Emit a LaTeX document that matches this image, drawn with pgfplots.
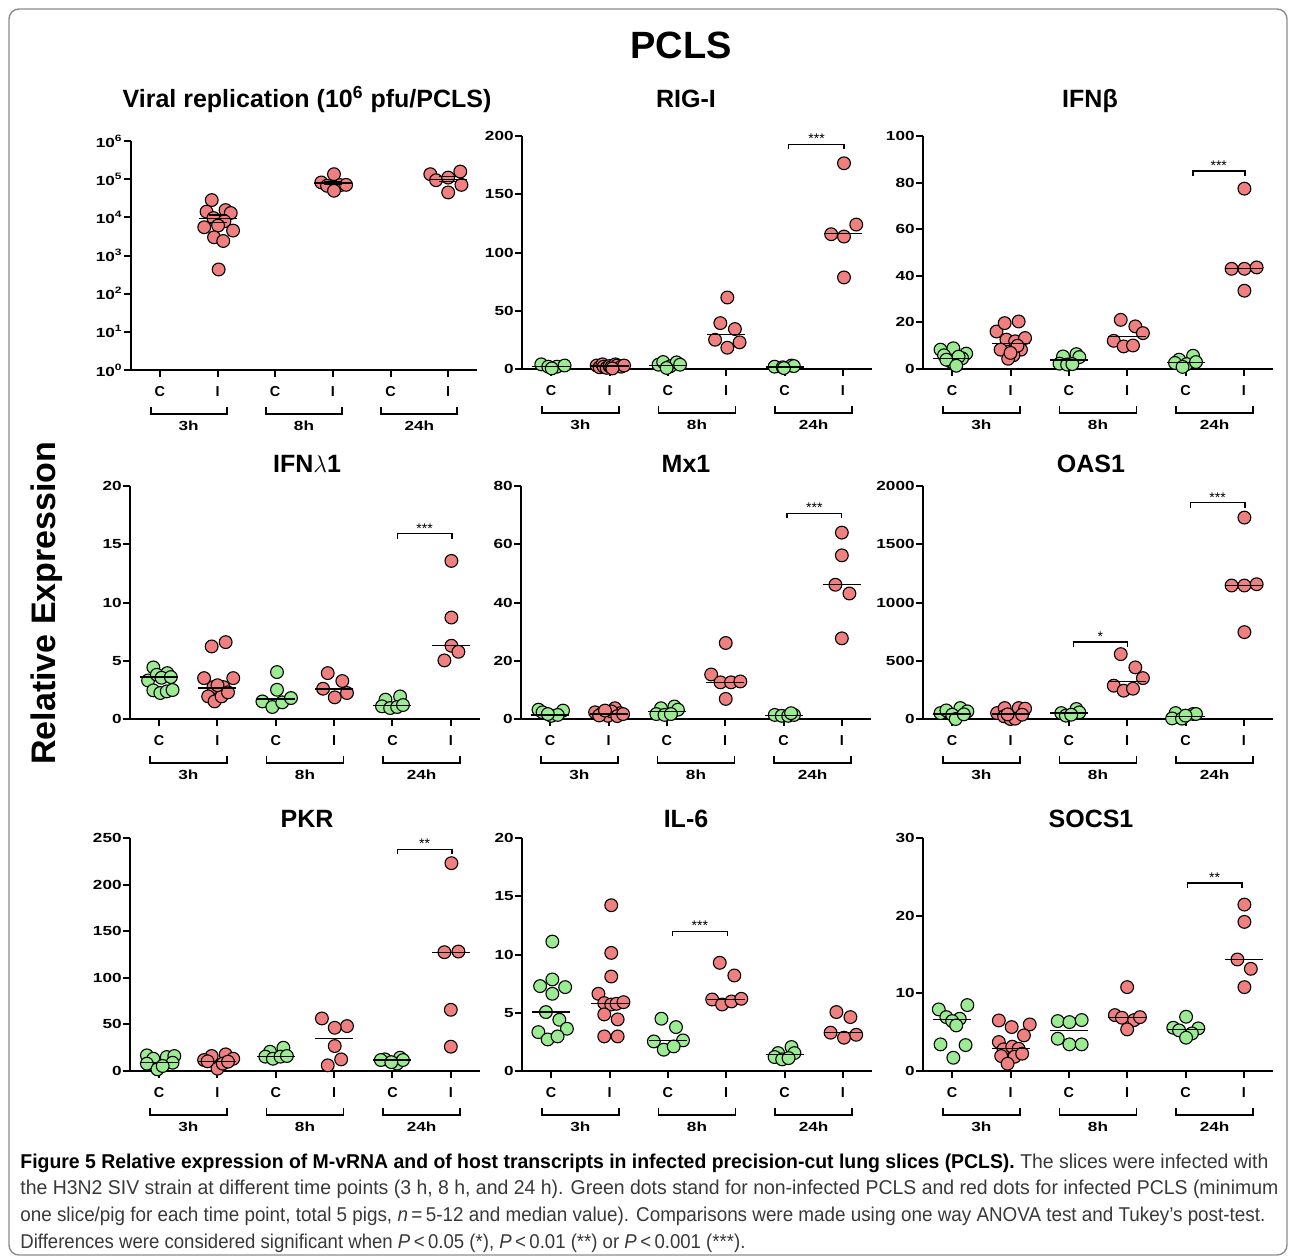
\documentclass[border=0pt]{standalone}
\usepackage{graphicx}
\usepackage{fontspec}
\setmainfont{Liberation Sans}
\newfontfamily\tickfont[FakeStretch=1.3]{Liberation Sans}
\newfontfamily\capfont[FakeStretch=0.9]{Liberation Sans}
\usepackage{pgfplots}
\pgfplotsset{compat=1.18}
\definecolor{dotgreen}{HTML}{9BEB92}
\definecolor{dotred}{HTML}{F08080}
\definecolor{framegray}{HTML}{8C8C8C}

\newcommand{\tickfs}{\tickfont\bfseries\fontsize{6.6}{7}\selectfont}
\newcommand{\titlefs}{\bfseries\fontsize{12.5}{14}\selectfont}
% caption line stretched to a given width, height kept
\newcommand{\capline}[2]{\resizebox{#1}{\height}{#2}}

\pgfplotsset{
  panel/.style={
    scale only axis, width=175pt, height=116.5pt, anchor=south west,
    axis lines=left, axis line style={line width=1pt, -},
    xmin=-0.5, xmax=5.5, ymin=0,
    xtick={0,...,5}, xticklabels={C,I,C,I,C,I},
    tick align=outside, major tick length=3.5pt,
    every tick/.style={black, line width=1pt},
    yticklabel style={font=\tickfs, inner sep=0.5pt},
    xticklabel style={font=\bfseries\fontsize{7.2}{8}\selectfont, inner sep=0pt, yshift=-4.6pt},
    /pgf/number format/assume math mode=true,
    /pgf/number format/1000 sep={},
    clip=false,
  },
  gdot/.style={only marks, mark=*, mark size=3.2pt, mark options={fill=dotgreen, draw=black, line width=0.55pt}},
  rdot/.style={only marks, mark=*, mark size=3.2pt, mark options={fill=dotred, draw=black, line width=0.55pt}},
  med/.style={only marks, mark=-, mark size=9.5pt, mark options={draw=black, line width=0.6pt}},
}

% time-point brackets under the C/I labels, #1 = bottom of the y range
\newcommand{\timebr}[1]{%
  \draw[line width=0.9pt] ([yshift=-18.5pt]axis cs:-0.16,#1) -- ([yshift=-22pt]axis cs:-0.16,#1) -- ([yshift=-22pt]axis cs:1.16,#1) -- ([yshift=-18.5pt]axis cs:1.16,#1);
  \draw[line width=0.9pt] ([yshift=-18.5pt]axis cs:1.84,#1) -- ([yshift=-22pt]axis cs:1.84,#1) -- ([yshift=-22pt]axis cs:3.16,#1) -- ([yshift=-18.5pt]axis cs:3.16,#1);
  \draw[line width=0.9pt] ([yshift=-18.5pt]axis cs:3.84,#1) -- ([yshift=-22pt]axis cs:3.84,#1) -- ([yshift=-22pt]axis cs:5.16,#1) -- ([yshift=-18.5pt]axis cs:5.16,#1);
  \node[font=\tickfs] at ([yshift=-28pt]axis cs:0.5,#1) {3h};
  \node[font=\tickfs] at ([yshift=-28pt]axis cs:2.5,#1) {8h};
  \node[font=\tickfs] at ([yshift=-28pt]axis cs:4.5,#1) {24h};
}
% significance bracket: x1, x2, middle, y, stars
\newcommand{\sig}[5]{%
  \draw[line width=0.6pt] ([yshift=-2.5pt]axis cs:#1,#4) -- (axis cs:#1,#4) -- (axis cs:#2,#4) -- ([yshift=-2.5pt]axis cs:#2,#4);
  \node[anchor=base, inner sep=0pt, font=\fontsize{7}{8}\selectfont] at ([yshift=0.2pt]axis cs:#3,#4) {#5};
}

\begin{document}
\begin{tikzpicture}[x=0.5pt, y=-0.5pt]
\useasboundingbox (0,0) rectangle (1290,1259);
\draw[framegray, line width=0.7pt, rounded corners=5pt] (9,9) rectangle (1287,1255);

\node[font=\bfseries\fontsize{19}{22}\selectfont] at (681,45) {PCLS};
\node[rotate=90, font=\bfseries\fontsize{17}{20}\selectfont] at (47,603) {Relative Expression};

\begin{scope}[every node/.style={anchor=base, font=\titlefs, inner sep=0pt}]
\node at (307,107) {Viral replication (10\textsuperscript{6} pfu/PCLS)};
\node at (686,107) {RIG-I};
\node at (1090,107) {IFNβ};
\node at (307,472) {IFN$\lambda$1};
\node at (686,472) {Mx1};
\node at (1091,472) {OAS1};
\node at (307,827) {PKR};
\node at (686,827) {IL-6};
\node at (1091,827) {SOCS1};
\end{scope}

% ---------- Viral replication ----------
\begin{axis}[panel, at={(65.5pt,-185pt)}, width=173pt, height=114.5pt,
  ymode=log, ymin=1, ymax=1000000, yminorticks=false,
  ytick={1,10,100,1000,10000,100000,1000000},
  yticklabels={10\textsuperscript{0},10\textsuperscript{1},10\textsuperscript{2},10\textsuperscript{3},10\textsuperscript{4},10\textsuperscript{5},10\textsuperscript{6}}]
\addplot[rdot] coordinates {(0.90,28300)(0.81,14100)(1.14,15500)(1.23,13000)(0.93,9600)(1.12,7900)(0.77,5500)(1.01,6100)(1.27,4500)(0.94,3000)(1.10,2400)(1.02,431)
  (3.02,135000)(2.80,82000)(2.90,67000)(3.13,70000)(3.23,71000)(3.02,49700)
  (4.69,135000)(4.79,94000)(5.00,110000)(5.21,158000)(5.23,71000)(5.00,45000)};
\addplot[black, line width=0.6pt, mark=-, mark size=4.5pt] coordinates {(1,7400)(1,11500)};
\addplot[black, line width=0.6pt, mark=-, mark size=4.5pt] coordinates {(3,72000)(3,88000)};
\addplot[black, line width=0.6pt, mark=-, mark size=4.5pt] coordinates {(5,85000)(5,120000)};
\addplot[med] coordinates {(1,9500)(3,79000)(5,100000)};
\timebr{1}
\end{axis}

% ---------- RIG-I ----------
\begin{axis}[panel, at={(261pt,-184.5pt)}, ymax=200, ytick={0,50,...,200}]
\addplot[gdot] coordinates {(-0.17,4)(-0.05,2)(0.10,2)(0.23,3)(0.01,0.5)
  (1.84,3.7)(1.92,6)(2.04,2.3)(2.15,5.7)(2.21,3.7)(1.98,0.9)
  (3.83,2)(3.97,1.5)(4.12,3)(4.16,2.5)(3.99,0.8)};
\addplot[rdot] coordinates {(0.78,3)(0.83,1.5)(0.88,4)(0.90,2)(0.95,1)(1.00,2.5)(1.03,1.5)(1.10,4)(1.13,3)(1.20,2)(1.25,3)(1.05,0.5)
  (3.02,61.4)(2.90,39.4)(3.15,34.3)(2.81,25.1)(3.23,22.9)(3.02,18.3)
  (5.02,176.6)(4.80,115.7)(5.02,113.7)(5.23,124)(5.02,78.6)};
\addplot[med] coordinates {(0,2.3)(1,2.5)(2,3.1)(3,29.7)(4,1.7)(5,116)};
\sig{4.07}{5.02}{4.55}{193}{***}
\timebr{0}
\end{axis}

% ---------- IFNb ----------
\begin{axis}[panel, at={(461.5pt,-184.5pt)}, ymax=100, ytick={0,20,...,100}]
\addplot[gdot] coordinates {(-0.20,8.3)(0.02,8.9)(-0.14,5.9)(-0.04,3.4)(0.24,6.6)(0.17,4.6)(0.04,1.9)(0.11,5.3)(-0.10,4)(0.07,1.4)
  (1.90,5.4)(2.13,6.4)(2.18,5.1)(1.84,2.3)(1.97,1.9)(2.06,2.1)
  (3.89,4)(4.13,5.7)(3.82,2.6)(4.02,2.1)(4.18,3)(3.95,0.9)};
\addplot[rdot] coordinates {(0.76,16.1)(0.90,19.7)(1.14,20.4)(0.93,12.6)(1.08,11.9)(1.25,13.3)(0.83,8.3)(1.18,8.3)(1.05,5.9)(0.96,4.4)(1.12,10)(1.00,6.9)
  (2.89,21.1)(3.14,18.3)(3.27,15.4)(2.77,12.1)(2.94,9.7)(3.10,10.1)
  (5.01,77.4)(4.79,43)(5.01,43)(5.22,43.6)(5.01,33.6)};
\addplot[med] coordinates {(0,4.4)(1,11.1)(2,3.9)(3,13.9)(4,2.9)(5,43)};
\sig{4.13}{5.02}{4.57}{85}{***}
\timebr{0}
\end{axis}

% ---------- IFNl1 ----------
\begin{axis}[panel, at={(65pt,-359.5pt)}, ymax=20, ytick={0,5,...,20}]
\addplot[gdot] coordinates {(-0.10,4.43)(-0.19,3.31)(-0.04,3.8)(0.14,3.94)(0.04,3.54)(0.20,3.6)(-0.10,2.46)(0.02,2.23)(0.13,2.37)(0.23,2.49)
  (2.02,4.03)(2.02,2.51)(1.77,1.51)(1.94,1.03)(2.11,1.43)(2.26,1.8)
  (3.88,1.66)(4.13,1.94)(3.82,1.09)(3.96,0.94)(4.08,1.03)(4.18,1.2)};
\addplot[rdot] coordinates {(0.90,6.23)(1.14,6.6)(0.77,3.51)(0.93,2.74)(1.10,2.74)(1.27,3.51)(0.84,1.94)(0.95,1.51)(1.07,1.94)(1.18,2.29)(1.00,2.9)
  (2.89,3.94)(3.14,3.26)(2.81,2.6)(3.01,1.86)(3.22,2.23)
  (5.01,13.57)(5.01,8.71)(5.01,6.29)(5.13,5.77)(4.89,5.03)};
\addplot[med] coordinates {(0,3.6)(1,2.66)(2,1.71)(3,2.57)(4,1.14)(5,6.34)};
\sig{4.08}{5.02}{4.55}{15.9}{***}
\timebr{0}
\end{axis}

% ---------- Mx1 ----------
\begin{axis}[panel, at={(260.5pt,-359.5pt)}, ymax=80, ytick={0,20,...,80}]
\addplot[gdot] coordinates {(-0.20,3.2)(-0.13,2.3)(0.02,1.1)(0.22,2.9)(0.13,1.4)(-0.04,1.7)
  (1.90,3.7)(2.13,4.3)(2.19,3.2)(1.82,1.7)(1.96,1.4)(2.07,1.7)
  (3.85,1.4)(3.97,1.1)(4.08,1.1)(4.18,1.4)(4.13,2)};
\addplot[rdot] coordinates {(0.77,2.3)(0.89,2.0)(0.99,1.1)(1.11,3.7)(1.20,2.0)(0.84,1.2)(1.05,2.6)(1.15,1.0)(0.94,2.9)(1.25,1.7)
  (3.01,26.1)(2.76,15.3)(2.92,12.6)(3.10,12.6)(3.26,12.9)(3.01,6.9)
  (5.00,64)(5.00,56.2)(4.89,46.1)(5.13,43.1)(5.00,27.7)};
\addplot[med] coordinates {(0,1.4)(1,1.7)(2,2.5)(3,12.6)(4,1.1)(5,46.1)};
\sig{4.06}{5.0}{4.53}{70.7}{***}
\timebr{0}
\end{axis}

% ---------- OAS1 ----------
\begin{axis}[panel, at={(461.5pt,-359.5pt)}, ymax=2000, ytick={0,500,...,2000}]
\addplot[gdot] coordinates {(-0.20,51)(-0.10,74)(0.14,94)(0.26,66)(0.00,37)(0.06,0)(0.20,40)
  (1.87,51)(2.13,86)(2.18,57)(1.95,29)(2.04,37)
  (3.83,51)(4.13,43)(4.18,43)(3.77,5)(3.94,3)(4.00,29)};
\addplot[rdot] coordinates {(0.77,51)(0.90,94)(1.14,94)(1.25,89)(0.89,23)(1.00,0)(1.08,3)(1.20,37)(0.95,40)
  (2.89,557)(3.14,443)(3.27,351)(2.77,286)(2.94,243)(3.10,260)
  (5.01,1729)(4.79,1146)(5.01,1146)(5.22,1157)(5.01,746)};
\addplot[med] coordinates {(0,43)(1,43)(2,51)(3,320)(4,23)(5,1146)};
\sig{2.08}{3.0}{2.54}{661}{*}
\sig{4.08}{5.02}{4.55}{1857}{***}
\timebr{0}
\end{axis}

% ---------- PKR ----------
\begin{axis}[panel, at={(65pt,-535.5pt)}, ymax=250, ytick={0,50,...,250}]
\addplot[gdot] coordinates {(-0.21,16.8)(-0.10,13.2)(0.13,15)(0.26,16.1)(-0.21,7.9)(0.23,8.9)(-0.03,1.8)(0.06,5.4)
  (1.90,20.7)(2.13,25)(1.82,15.4)(1.95,13.2)(2.08,15.4)(2.19,16.1)
  (3.87,12.5)(4.13,14.3)(3.80,11.8)(4.08,7.9)(4.18,11.8)(3.98,9.5)};
\addplot[rdot] coordinates {(0.90,16.1)(1.14,17.9)(1.27,13.2)(0.77,11.8)(0.83,10.4)(1.00,2.5)(1.09,7.9)(1.18,10)
  (2.79,56.4)(3.22,48.2)(3.01,46.4)(3.01,26.8)(3.12,12.5)(2.89,6.1)
  (5.01,223)(4.89,127.5)(5.13,128.2)(5.00,65.7)(5.00,26.1)};
\addplot[med] coordinates {(0,8.9)(1,10.4)(2,15.4)(3,35)(4,11.8)(5,127)};
\sig{4.08}{5.02}{4.55}{238}{**}
\timebr{0}
\end{axis}

% ---------- IL-6 ----------
\begin{axis}[panel, at={(261pt,-535.5pt)}, ymax=20, ytick={0,5,...,20}]
\addplot[gdot] coordinates {(0.02,11.11)(-0.19,7.29)(0.02,7.86)(0.24,7.2)(0.02,6.63)(-0.09,5.06)(0.14,4.4)(-0.22,3.34)(0.27,3.63)(-0.06,2.71)(0.11,2.97)
  (1.89,4.49)(2.14,3.77)(1.76,2.54)(2.26,2.63)(1.93,1.83)(2.10,2.11)
  (4.12,2.06)(3.89,1.54)(4.17,1.54)(3.83,1.2)(3.96,1.0)(4.07,1.11)};
\addplot[rdot] coordinates {(1.03,14.23)(1.03,10.14)(1.03,8.11)(0.81,6.63)(0.91,5.83)(1.03,5.71)(1.12,5.77)(1.24,5.91)(0.91,4.86)(1.14,4.43)(0.91,2.97)(1.14,2.97)
  (2.89,9.29)(3.14,8.2)(2.76,6.14)(2.93,5.71)(3.09,5.97)(3.26,6.2)
  (4.89,5.06)(5.13,4.63)(4.79,3.29)(5.02,2.86)(5.23,3.11)};
\addplot[med] coordinates {(0,5.06)(1,5.83)(2,2.6)(3,6.14)(4,1.4)(5,3.29)};
\sig{2.08}{3.02}{2.55}{12.0}{***}
\timebr{0}
\end{axis}

% ---------- SOCS1 ----------
\begin{axis}[panel, at={(461.5pt,-535.5pt)}, ymax=30, ytick={0,10,20,30}]
\addplot[gdot] coordinates {(-0.23,7.93)(0.26,8.49)(-0.10,6.94)(0.13,6.73)(0.00,6.43)(0.07,5.87)(-0.20,3.43)(0.23,3.34)(0.02,1.71)
  (1.81,6.43)(2.01,6.3)(2.22,6.56)(1.81,4.16)(2.01,3.43)(2.22,3.43)
  (4.01,6.99)(3.79,5.57)(3.89,5.23)(4.22,5.49)(4.11,4.84)(4.01,4.29)};
\addplot[rdot] coordinates {(0.80,6.51)(1.02,5.66)(1.33,6.0)(1.23,4.59)(0.80,3.73)(0.88,2.79)(1.03,3.13)(1.14,2.87)(0.84,1.93)(1.07,1.84)(1.20,2.23)(0.95,0.94)
  (3.00,10.8)(2.79,7.2)(2.91,6.86)(3.12,6.56)(3.22,6.94)(3.00,5.36)
  (5.01,21.43)(5.01,19.2)(4.89,14.36)(5.12,13.16)(5.01,10.8)};
\addplot[med] coordinates {(0,6.64)(1,2.91)(2,5.23)(3,6.86)(4,5.36)(5,14.36)};
\sig{4.04}{4.97}{4.5}{24.2}{**}
\timebr{0}
\end{axis}

% ---------- caption ----------
\begin{scope}[every node/.style={anchor=base west, inner sep=0pt, font=\capfont\fontsize{10}{12}\selectfont, text=black!78}]
\node at (20,1168) {\capline{624pt}{\textcolor{black}{\bfseries Figure 5 Relative expression of M-vRNA and of host transcripts in infected precision-cut lung slices (PCLS).} The slices were infected with}};
\node at (20,1194) {\capline{629pt}{the H3N2 SIV strain at different time points (3 h, 8 h, and 24 h). Green dots stand for non-infected PCLS and red dots for infected PCLS (minimum}};
\node at (20,1221) {\capline{622.5pt}{one slice/pig for each time point, total 5 pigs, \textit{n}\,=\,5-12 and median value). Comparisons were made using one way ANOVA test and Tukey’s post-test.}};
\node at (20,1248) {\capline{362.5pt}{Differences were considered significant when \textit{P}\,<\,0.05 (*), \textit{P}\,<\,0.01 (**) or \textit{P}\,<\,0.001 (***).}};
\end{scope}
\end{tikzpicture}
\end{document}
